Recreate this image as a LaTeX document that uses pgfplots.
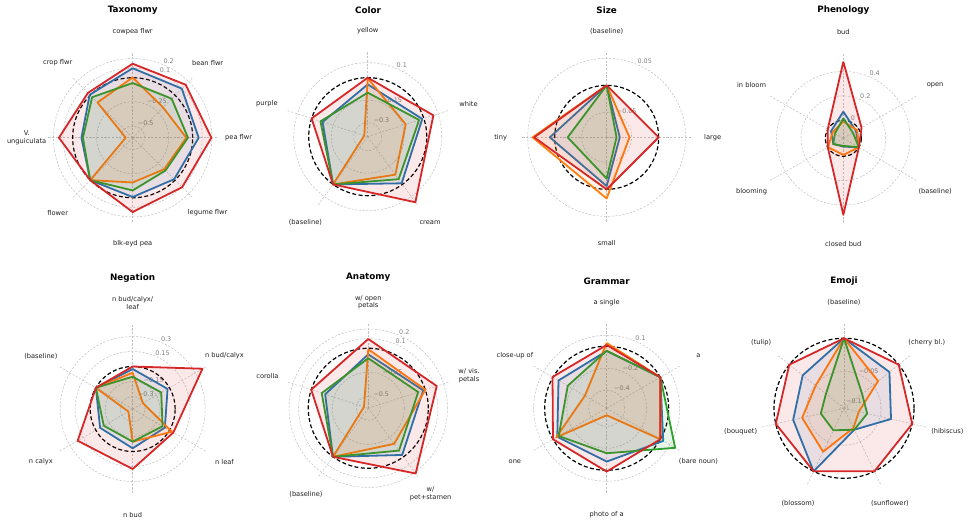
\documentclass[border=0pt]{standalone}
\usepackage{fontspec}
\setmainfont{DejaVu Sans}
\usepackage{pgfplots}
\usepackage{pgfplotstable}
\pgfplotsset{compat=1.18}

\definecolor{tabblue}{HTML}{1F77B4}
\definecolor{taborange}{HTML}{FF7F0E}
\definecolor{tabgreen}{HTML}{2CA02C}
\definecolor{tabred}{HTML}{D62728}

% relative change per prompt variant; columns: angle, blue, orange, green, red
\pgfplotstableread{
a b o g r
90 0.099 0.003 -0.055 0.146
45 0.099 -0.178 -0.050 0.156
0 0.063 -0.066 -0.049 0.195
-45 -0.014 -0.161 -0.142 0.104
-90 -0.007 -0.159 -0.076 0.149
-135 0 0 0 0
180 -0.091 -0.552 -0.107 0.143
135 0.008 -0.106 -0.028 0.035
90 0.099 0.003 -0.055 0.146
}\tTax
\pgfplotstableread{
a b o g r
90 -0.045 -0.004 -0.100 0
18 -0.011 -0.127 -0.033 0.067
-54 -0.009 -0.080 -0.043 0.147
-126 0 0 0 0
162 -0.077 -0.369 -0.062 0
90 -0.045 -0.004 -0.100 0
}\tCol
\pgfplotstableread{
a b o g r
90 0 0 0 0
0 -0.072 -0.054 -0.078 0
-90 -0.006 0.017 -0.020 0
180 0.009 0.041 -0.024 0.038
90 0 0 0 0
}\tSiz
\pgfplotstableread{
a b o g r
90 0.071 -0.011 0.016 0.480
30 -0.028 -0.016 -0.057 0.025
-30 0 0 0 0
-90 -0.079 -0.011 -0.085 0.480
-150 -0.053 -0.002 -0.052 0
150 -0.031 -0.047 -0.068 0
90 0.071 -0.011 0.016 0.480
}\tPhe
\pgfplotstableread{
a b o g r
90 -0.025 -0.062 -0.102 0
30 -0.022 -0.307 -0.095 0.381
-30 -0.053 0.029 -0.080 0.045
-90 -0.032 -0.098 -0.098 0.175
-150 -0.049 -0.375 -0.091 0.210
150 0 0 0 0
90 -0.025 -0.062 -0.102 0
}\tNeg
\pgfplotstableread{
a b o g r
90 -0.063 -0.010 -0.104 0.097
18 -0.023 0 -0.078 0.125
-54 -0.024 -0.167 -0.080 0.215
-126 0 0 0 0
162 -0.153 -0.578 -0.115 0
90 -0.063 -0.010 -0.104 0.097
}\tAna
\pgfplotstableread{
a b o g r
90 -0.043 0.030 -0.040 0.012
30 0 0 0 0
-30 0.030 0 0.155 0
-90 -0.079 -0.500 -0.155 0.012
-150 -0.045 -0.033 -0.060 0
150 -0.058 -0.335 -0.155 0.005
90 -0.043 0.030 -0.040 0.012
}\tGra
\pgfplotstableread{
a b o g r
90 0 0 0 0
38.57 -0.018 -0.040 -0.071 0
-12.86 -0.033 -0.083 -0.070 0
-64.29 -0.070 -0.073 -0.070 0
-115.71 0 -0.033 -0.069 0
-167.14 -0.027 -0.041 -0.070 0
141.43 -0.026 -0.051 -0.071 0
90 0 0 0 0
}\tEmo

\tikzset{
  gridc/.style={draw=black!24, line width=0.4pt, dash pattern=on 1.6pt off 1.2pt},
  zeroc/.style={draw=black, line width=0.9pt, dash pattern=on 3pt off 1.8pt},
  ticklab/.style={anchor=south west, inner sep=0.3pt, text=black!50, font=\fontsize{4.8}{5.5}\selectfont},
  catlab/.style={anchor=center, inner sep=0pt, align=center, text=black!88, font=\fontsize{5}{5.8}\selectfont},
  ttl/.style={anchor=center, font=\fontsize{6.6}{7.5}\selectfont\bfseries},
}
\pgfplotsset{radarax/.style={hide axis, scale only axis, width=127.5pt, height=127.5pt,
  xmin=-85, xmax=85, ymin=-85, ymax=85, clip=false, anchor=center}}

% radius on screen = \zz + \kk * value (in px, 1px = 0.75pt)
\newcommand\spokes[1]{\pgfplotsinvokeforeach{#1}{\draw[gridc] (axis cs:0,0) -- ++(##1:63.75pt);}}
\newcommand\ring[2]{%
  \draw[gridc] (axis cs:0,0) circle[radius={0.75pt*(\zz+\kk*(#1))}];
  \path (axis cs:0,0) ++(67.5:{0.75pt*(\zz+\kk*(#1))}) node[ticklab]{#2};}
\newcommand\zero{\draw[zeroc] (axis cs:0,0) circle[radius={0.75pt*\zz}];}
\newcommand\cat[2]{\path (axis cs:0,0) ++(#1:79.5pt) node[catlab]{#2};}
\newcommand\poly[3]{\addplot[data cs=polar, draw=#1, fill=#1, fill opacity=0.1,
  line width=1.35pt, line join=round] table[x=a, y expr={\zz+\kk*\thisrow{#2}}] {#3};}
\newcommand\series[1]{\poly{tabblue}{b}{#1}\poly{taborange}{o}{#1}\poly{tabgreen}{g}{#1}\poly{tabred}{r}{#1}}

\begin{document}
\begin{tikzpicture}
\path[use as bounding box] (0,0) rectangle (727.5pt,-393.75pt);

\node[ttl] at (99.5pt,-7.5pt) {Taxonomy};
\node[ttl] at (276pt,-7.5pt) {Color};
\node[ttl] at (455pt,-7.5pt) {Size};
\node[ttl] at (632.5pt,-7.5pt) {Phenology};
\node[ttl] at (99.5pt,-208.3pt) {Negation};
\node[ttl] at (276.2pt,-208.3pt) {Anatomy};
\node[ttl] at (455pt,-210.7pt) {Grammar};
\node[ttl] at (633pt,-210.7pt) {Emoji};

% Taxonomy
\def\kk{96}\def\zz{60}
\begin{axis}[radarax, at={(99.5pt,-103.3pt)}]
\spokes{90,45,0,-45,-90,-135,180,135}
\ring{-0.5}{−0.5}\ring{-0.25}{−0.25}\ring{0.1}{0.1}\ring{0.2}{0.2}
\zero
\series{\tTax}
\cat{90}{cowpea flwr}\cat{45}{bean flwr}\cat{0}{pea flwr}\cat{-45}{legume flwr}
\cat{-90}{blk-eyd pea}\cat{-135}{flower}\cat{180}{V.\\unguiculata}\cat{135}{crop flwr}
\end{axis}

% Color
\def\kk{150}\def\zz{59}
\begin{axis}[radarax, at={(275.8pt,-102.5pt)}]
\spokes{90,18,-54,-126,162}
\ring{-0.3}{−0.3}\ring{-0.15}{−0.15}\ring{0.1}{0.1}
\zero
\series{\tCol}
\cat{90}{yellow}\cat{18}{white}\cat{-54}{cream}\cat{-126}{(baseline)}\cat{162}{purple}
\end{axis}

% Size
\def\kk{540}\def\zz{52}
\begin{axis}[radarax, at={(455pt,-103pt)}]
\spokes{90,0,-90,180}
\ring{-0.05}{−0.05}\ring{0.05}{0.05}
\zero
\series{\tSiz}
\cat{90}{(baseline)}\cat{0}{large}\cat{-90}{small}\cat{180}{tiny}
\end{axis}

% Phenology
\def\kk{122}\def\zz{18}
\begin{axis}[radarax, at={(632.5pt,-103.7pt)}]
\spokes{90,30,-30,-90,-150,150}
\ring{0}{0}\ring{0.2}{0.2}\ring{0.4}{0.4}
\zero
\series{\tPhe}
\cat{90}{bud}\cat{30}{open}\cat{-30}{(baseline)}\cat{-90}{closed bud}\cat{-150}{blooming}\cat{150}{in bloom}
\end{axis}

% Negation
\def\kk{100}\def\zz{42.5}
\begin{axis}[radarax, at={(99.5pt,-306.75pt)}]
\spokes{90,30,-30,-90,-150,150}
\ring{-0.3}{−0.3}\ring{-0.15}{−0.15}\ring{0.15}{0.15}\ring{0.3}{0.3}
\zero
\series{\tNeg}
\cat{90}{n bud/calyx/\\leaf}\cat{30}{n bud/calyx}\cat{-30}{n leaf}\cat{-90}{n bud}\cat{-150}{n calyx}\cat{150}{(baseline)}
\end{axis}

% Anatomy
\def\kk{96}\def\zz{60}
\begin{axis}[radarax, at={(276.2pt,-306.2pt)}]
\spokes{90,18,-54,-126,162}
\ring{-0.5}{−0.5}\ring{-0.25}{−0.25}\ring{0.1}{0.1}\ring{0.2}{0.2}
\zero
\series{\tAna}
\cat{90}{w/ open\\petals}\cat{18}{w/ vis.\\petals}\cat{-54}{w/\\pet+stamen}\cat{-126}{(baseline)}\cat{162}{corolla}
\end{axis}

% Grammar
\def\kk{110}\def\zz{62}
\begin{axis}[radarax, at={(455pt,-306.2pt)}]
\spokes{90,30,-30,-90,-150,150}
\ring{-0.4}{−0.4}\ring{-0.2}{−0.2}\ring{0.1}{0.1}
\zero
\series{\tGra}
\cat{90}{a single}\cat{30}{a}\cat{-30}{(bare noun)}\cat{-90}{photo of a}\cat{-150}{one}\cat{150}{close-up of}
\end{axis}

% Emoji
\def\kk{660}\def\zz{70}
\begin{axis}[radarax, at={(633pt,-306.2pt)}]
\spokes{90,38.57,-12.86,-64.29,-115.71,-167.14,141.43}
\ring{-0.1}{−0.1}\ring{-0.05}{−0.05}
\zero
\series{\tEmo}
\cat{90}{(baseline)}\cat{38.57}{(cherry bl.)}\cat{-12.86}{(hibiscus)}\cat{-64.29}{(sunflower)}
\cat{-115.71}{(blossom)}\cat{-167.14}{(bouquet)}\cat{141.43}{(tulip)}
\end{axis}
\end{tikzpicture}
\end{document}
